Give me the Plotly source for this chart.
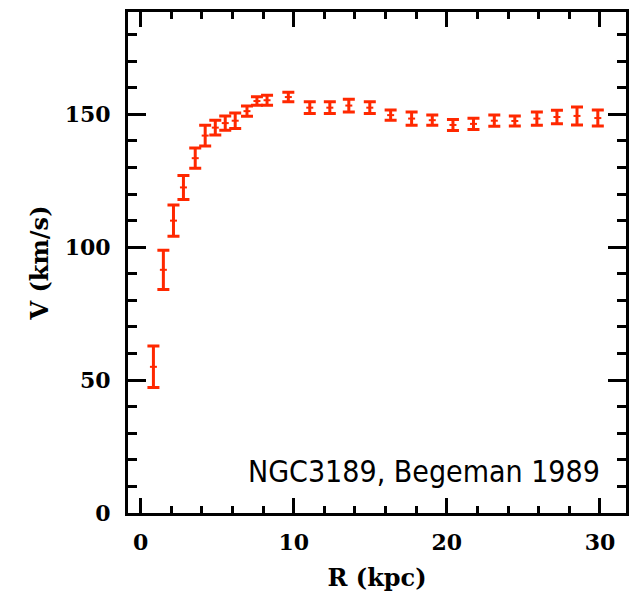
import plotly.graph_objects as go

# Rotation curve of NGC3189 (Begeman 1989)
radius_kpc = [0.84, 1.49, 2.15, 2.80, 3.57, 4.22, 4.88, 5.53, 6.18, 6.95, 7.60, 8.26,
              9.65, 11.05, 12.36, 13.60, 14.97, 16.33, 17.70, 19.05, 20.40, 21.74,
              23.10, 24.44, 25.88, 27.19, 28.50, 29.86]
velocity_kms = [55.0, 91.5, 110.0, 122.5, 133.5, 142.0, 145.0, 146.7, 147.6, 151.2, 155.0, 155.3,
                156.5, 152.5, 152.5, 153.3, 152.5, 149.7, 148.4, 147.8, 146.0, 146.4,
                147.6, 147.5, 148.4, 149.0, 149.4, 148.6]
velocity_err = [7.8, 7.4, 5.9, 4.5, 3.8, 3.9, 2.8, 2.7, 2.9, 1.9, 1.6, 1.9,
                1.8, 2.2, 2.2, 2.4, 2.2, 1.9, 2.5, 1.9, 2.1, 2.1,
                2.1, 1.9, 2.5, 2.5, 3.4, 3.0]

x_ticks = [0, 10, 20, 30]
y_ticks = [0, 50, 100, 150]
label_text = "NGC3189, Begeman 1989"

RED = "#ff2800"
tick_font = dict(family="DejaVu Serif", size=22, color="black", weight="bold")
title_font = dict(family="DejaVu Serif", size=24, color="black", weight="bold")

fig = go.Figure()
fig.add_trace(go.Scatter(
    x=radius_kpc, y=velocity_kms, mode="markers",
    marker=dict(symbol="line-ew", size=5, color=RED, line=dict(color=RED, width=2)),
    error_y=dict(type="data", array=velocity_err, symmetric=True,
                 color=RED, thickness=3, width=6),
    showlegend=False, hoverinfo="x+y",
))

axis_common = dict(
    showline=True, linecolor="black", linewidth=3, mirror="allticks",
    ticks="inside", tickcolor="black", tickwidth=3,
    showgrid=False, zeroline=False, tickfont=tick_font, automargin=False,
)

fig.update_xaxes(
    range=[-0.82, 31.7], tickvals=x_ticks, ticklen=15,
    minor=dict(dtick=2, ticks="inside", ticklen=7, tickwidth=3, tickcolor="black", showgrid=False),
    title=dict(text="R (kpc)", font=title_font, standoff=20),
    ticklabelstandoff=8,
    **axis_common,
)
fig.update_yaxes(
    range=[0, 188.5], tickvals=y_ticks, ticklen=18,
    minor=dict(dtick=10, ticks="inside", ticklen=9, tickwidth=3, tickcolor="black", showgrid=False),
    title=dict(text="V (km/s)", font=title_font, standoff=10),
    ticklabelstandoff=10,
    **axis_common,
)

fig.add_annotation(
    x=0.952, y=0.083, xref="paper", yref="paper",
    xanchor="right", yanchor="middle", showarrow=False,
    text=label_text,
    font=dict(family="DejaVu Sans Condensed, DejaVu Sans", size=30, color="black"),
)

fig.update_layout(
    width=631, height=592,
    margin=dict(l=128, r=5, t=12, b=79),
    paper_bgcolor="white", plot_bgcolor="white",
)

fig.write_html("out.html")
